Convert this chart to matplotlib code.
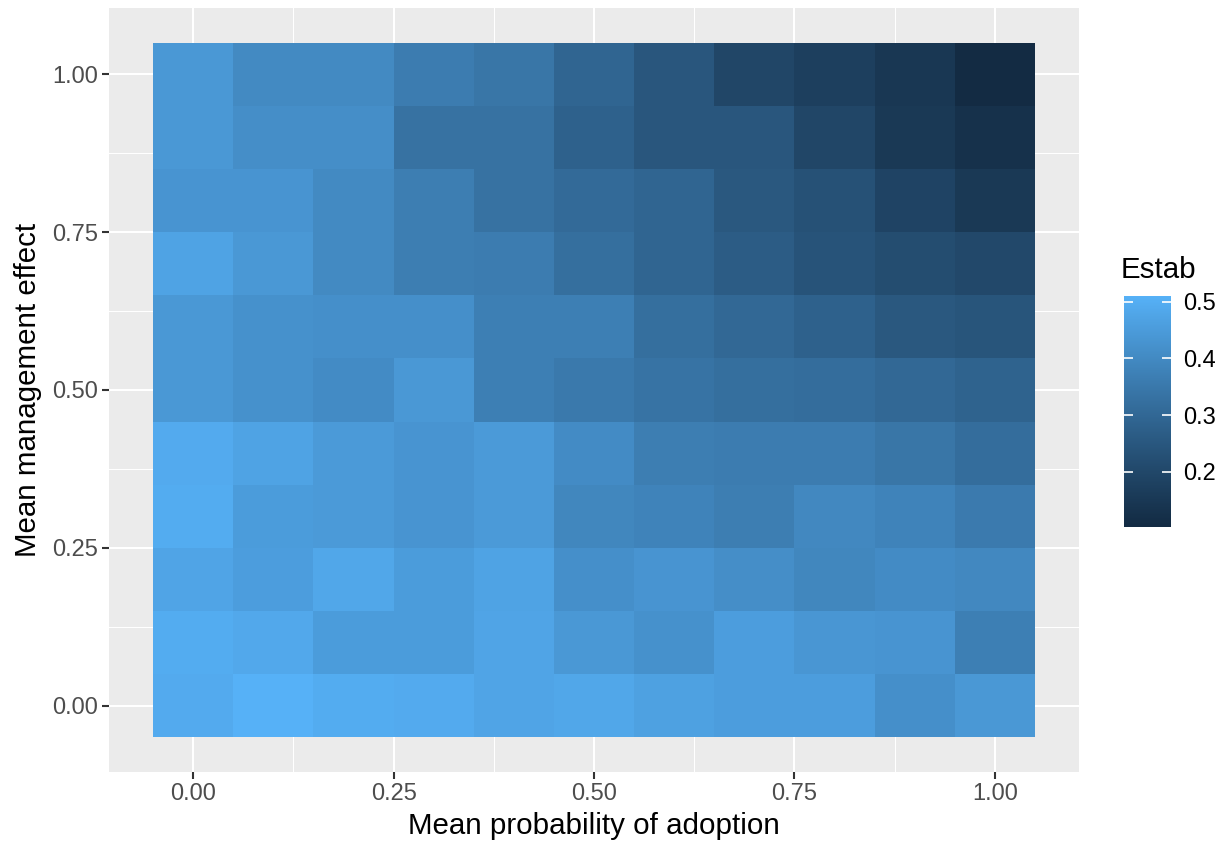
import numpy as np
import matplotlib
matplotlib.use("Agg")
import matplotlib.pyplot as plt
from matplotlib.colors import ListedColormap, Normalize

plt.rcParams['font.family'] = ['Liberation Sans', 'DejaVu Sans']

# ---- data ----
adoption = [0.0, 0.1, 0.2, 0.3, 0.4, 0.5, 0.6, 0.7, 0.8, 0.9, 1.0]
management = [0.0, 0.1, 0.2, 0.3, 0.4, 0.5, 0.6, 0.7, 0.8, 0.9, 1.0]

estab_m00 = [0.490, 0.510, 0.495, 0.490, 0.475, 0.480, 0.465, 0.455, 0.455, 0.415, 0.440]
estab_m01 = [0.495, 0.485, 0.450, 0.450, 0.475, 0.440, 0.420, 0.455, 0.435, 0.430, 0.370]
estab_m02 = [0.475, 0.455, 0.480, 0.450, 0.470, 0.415, 0.430, 0.410, 0.390, 0.405, 0.395]
estab_m03 = [0.495, 0.450, 0.445, 0.430, 0.445, 0.390, 0.380, 0.365, 0.395, 0.380, 0.355]
estab_m04 = [0.490, 0.470, 0.445, 0.430, 0.445, 0.405, 0.365, 0.360, 0.360, 0.340, 0.315]
estab_m05 = [0.440, 0.420, 0.405, 0.440, 0.370, 0.350, 0.335, 0.320, 0.315, 0.300, 0.285]
estab_m06 = [0.440, 0.420, 0.415, 0.415, 0.370, 0.370, 0.320, 0.300, 0.280, 0.250, 0.240]
estab_m07 = [0.470, 0.440, 0.400, 0.365, 0.360, 0.320, 0.290, 0.265, 0.235, 0.215, 0.200]
estab_m08 = [0.430, 0.430, 0.400, 0.365, 0.330, 0.305, 0.290, 0.250, 0.230, 0.185, 0.150]
estab_m09 = [0.440, 0.410, 0.410, 0.330, 0.330, 0.280, 0.245, 0.245, 0.195, 0.150, 0.125]
estab_m10 = [0.440, 0.400, 0.400, 0.360, 0.340, 0.290, 0.245, 0.195, 0.170, 0.145, 0.103]

x_breaks = [0.0, 0.25, 0.5, 0.75, 1.0]
x_labels = ["0.00", "0.25", "0.50", "0.75", "1.00"]
y_breaks = [0.0, 0.25, 0.5, 0.75, 1.0]
y_labels = ["0.00", "0.25", "0.50", "0.75", "1.00"]
legend_breaks = [0.2, 0.3, 0.4, 0.5]
legend_labels = ["0.2", "0.3", "0.4", "0.5"]

Z = np.array([estab_m00, estab_m01, estab_m02, estab_m03, estab_m04, estab_m05,
              estab_m06, estab_m07, estab_m08, estab_m09, estab_m10])

# ---- ggplot2 default continuous gradient (Lab interpolation) ----
def srgb_to_lab(rgb):
    rgb = np.asarray(rgb, float)
    lin = np.where(rgb <= 0.04045, rgb / 12.92, ((rgb + 0.055) / 1.055) ** 2.4)
    M = np.array([[0.4124564, 0.3575761, 0.1804375],
                  [0.2126729, 0.7151522, 0.0721750],
                  [0.0193339, 0.1191920, 0.9503041]])
    xyz = M @ lin
    wp = np.array([0.95047, 1.0, 1.08883])
    t = xyz / wp
    d = 6 / 29
    f = np.where(t > d ** 3, np.cbrt(t), t / (3 * d * d) + 4 / 29)
    L = 116 * f[1] - 16
    a = 500 * (f[0] - f[1])
    b = 200 * (f[1] - f[2])
    return np.array([L, a, b])

def lab_to_srgb(lab):
    L, a, b = lab
    fy = (L + 16) / 116
    fx = fy + a / 500
    fz = fy - b / 200
    d = 6 / 29
    def finv(f):
        return np.where(f > d, f ** 3, 3 * d * d * (f - 4 / 29))
    wp = np.array([0.95047, 1.0, 1.08883])
    xyz = np.array([finv(fx), finv(fy), finv(fz)]) * wp
    Minv = np.array([[3.2404542, -1.5371385, -0.4985314],
                     [-0.9692660, 1.8760108, 0.0415560],
                     [0.0556434, -0.2040259, 1.0572252]])
    lin = Minv @ xyz
    lin = np.clip(lin, 0, 1)
    rgb = np.where(lin <= 0.0031308, 12.92 * lin, 1.055 * lin ** (1 / 2.4) - 0.055)
    return np.clip(rgb, 0, 1)

low = np.array([0x13, 0x2B, 0x43]) / 255
high = np.array([0x56, 0xB1, 0xF7]) / 255
lab_lo, lab_hi = srgb_to_lab(low), srgb_to_lab(high)
cols = [lab_to_srgb(lab_lo + (lab_hi - lab_lo) * t) for t in np.linspace(0, 1, 256)]
cmap = ListedColormap(cols)
norm = Normalize(vmin=Z.min(), vmax=Z.max())

# ---- figure ----
W, H = 1226, 843
fig = plt.figure(figsize=(W / 100, H / 100), dpi=100)
ax = fig.add_axes([109 / W, (H - 772) / H, (1079 - 109) / W, (772 - 8) / H])
ax.set_facecolor('#EBEBEB')
for s in ax.spines.values():
    s.set_visible(False)

ax.pcolormesh(adoption, management, Z, cmap=cmap, norm=norm, shading='nearest', zorder=2)

ax.set_xlim(-0.105, 1.105)
ax.set_ylim(-0.105, 1.105)
ax.set_xticks(x_breaks)
ax.set_xticklabels(x_labels)
ax.set_yticks(y_breaks)
ax.set_yticklabels(y_labels)
ax.set_xticks([0.125, 0.375, 0.625, 0.875], minor=True)
ax.set_yticks([0.125, 0.375, 0.625, 0.875], minor=True)
ax.set_axisbelow(True)
ax.grid(which='major', color='white', linewidth=1.5, zorder=0.5)
ax.grid(which='minor', color='white', linewidth=0.75, zorder=0.5)
ax.tick_params(which='minor', length=0)
ax.tick_params(which='major', length=5, width=1.5, color='#333333',
               labelcolor='#4D4D4D', labelsize=17, pad=3)

ax.set_xlabel('Mean probability of adoption', fontsize=21.25, color='black', labelpad=5)
ax.set_ylabel('Mean management effect', fontsize=21.25, color='black', labelpad=7)

# ---- legend colourbar ----
cax = fig.add_axes([1124 / W, (H - 527) / H, 47 / W, 231 / H])
grad = np.linspace(Z.min(), Z.max(), 300).reshape(-1, 1)
cax.imshow(grad, extent=[0, 1, Z.min(), Z.max()], origin='lower', aspect='auto',
           cmap=cmap, norm=norm)
cax.set_xlim(0, 1)
cax.set_ylim(Z.min(), Z.max())
cax.hlines(legend_breaks, 0, 0.2, color='white', linewidth=1.2)
cax.hlines(legend_breaks, 0.8, 1, color='white', linewidth=1.2)
cax.set_xticks([])
cax.yaxis.tick_right()
cax.set_yticks(legend_breaks)
cax.set_yticklabels(legend_labels)
cax.tick_params(axis='y', length=0, labelsize=17, labelcolor='black', pad=9)
for s in cax.spines.values():
    s.set_visible(False)

fig.text(1121 / W, (H - 278) / H, 'Estab', fontsize=21.25, color='black',
         ha='left', va='baseline')

fig.savefig('out.png', dpi=100)
